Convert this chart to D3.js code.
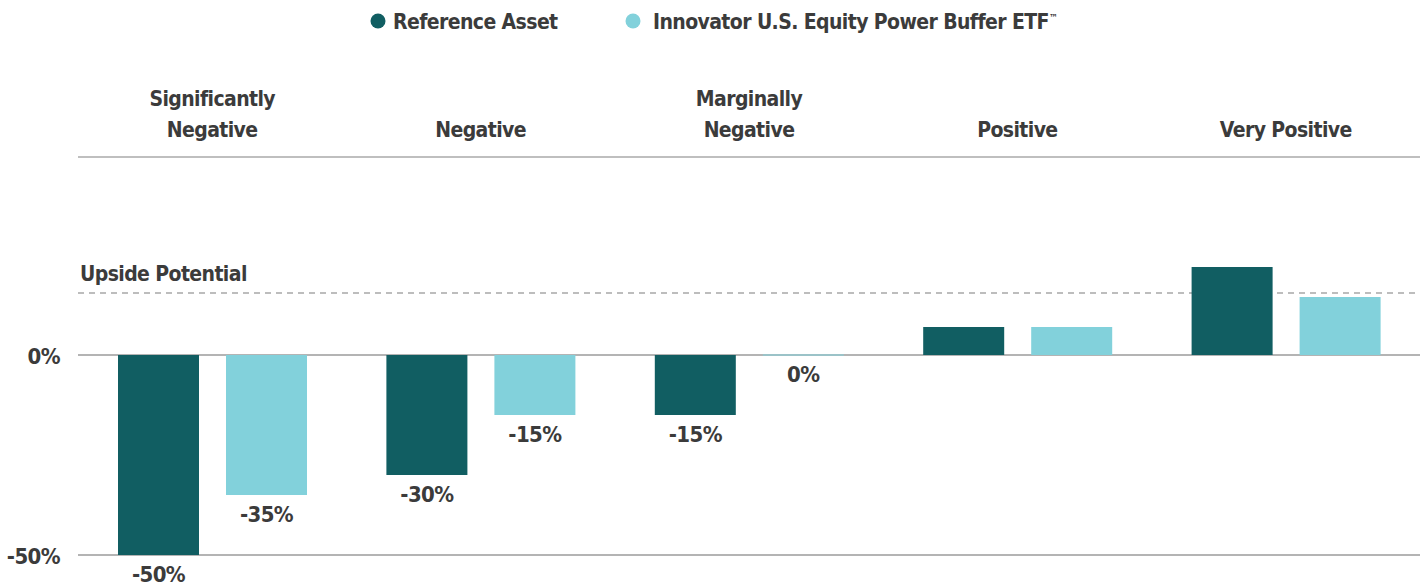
<!DOCTYPE html>
<html>
<head>
<meta charset="utf-8">
<script src="https://cdn.jsdelivr.net/npm/d3@7"></script>
<style>
  body { margin: 0; background: #fff; }
  svg { display: block; }
  text { font-family: "Liberation Sans Narrow", "DejaVu Sans Condensed", sans-serif; font-weight: bold; fill: #3b3b3b; letter-spacing: -0.6px; }
</style>
</head>
<body>
<svg width="1426" height="588"></svg>
<script>
var categories = [["Significantly", "Negative"], ["Negative"], ["Marginally", "Negative"], ["Positive"], ["Very Positive"]];
var seriesNames = ["Reference Asset", "Innovator U.S. Equity Power Buffer ETF"];
var seriesMarks = ["", "\u2122"];
var referenceValues = [-50, -30, -15, 7, 22];
var bufferValues = [-35, -15, 0, 7, 14.5];
var upsidePotential = 15.5;
var yTicks = [0, -50];

var svg = d3.select("svg"),
    margin = { left: 78, right: 6 },
    width = 1426 - margin.left - margin.right;

var colors = d3.scaleOrdinal().domain(seriesNames).range(["#115e62", "#82d1db"]);

var x0 = d3.scaleBand().domain(d3.range(categories.length)).range([margin.left, margin.left + width]);
var x1 = d3.scaleBand().domain(seriesNames).range([40, 229]).paddingInner(0.25);
var y = d3.scaleLinear().domain([-50, 0]).range([555, 355]);

var data = categories.map(function (c, i) {
    return [
        { series: seriesNames[0], value: referenceValues[i] },
        { series: seriesNames[1], value: bufferValues[i] }
    ];
});

// legend
var legend = svg.append("g");
var legendX = [378, 633];
seriesNames.forEach(function (s, i) {
    legend.append("circle").attr("cx", legendX[i]).attr("cy", 21).attr("r", 7.5).attr("fill", colors(s));
    var t = legend.append("text").attr("x", legendX[i] + 15 + i * 5).attr("y", 29).style("font-size", "21px").text(s);
    if (seriesMarks[i]) {
        t.append("tspan").attr("dy", -8).style("font-size", "10px").text(seriesMarks[i]);
    }
});

// category header
var header = svg.append("g");
categories.forEach(function (lines, i) {
    var cx = x0(i) + x0.bandwidth() / 2;
    var t = header.append("text").attr("text-anchor", "middle").style("font-size", "21px");
    lines.forEach(function (l, j) {
        t.append("tspan").attr("x", cx).attr("y", 137 - (lines.length - 1 - j) * 31).text(l);
    });
});
svg.append("line").attr("x1", margin.left).attr("x2", margin.left + width)
    .attr("y1", 157).attr("y2", 157).attr("stroke", "#aaa").attr("stroke-width", 1.5);

// y gridlines and labels
var yAxis = svg.append("g");
yTicks.forEach(function (t) {
    yAxis.append("line").attr("x1", margin.left).attr("x2", margin.left + width)
        .attr("y1", y(t)).attr("y2", y(t)).attr("stroke", "#b4b4b4").attr("stroke-width", 2);
    yAxis.append("text").attr("x", 60).attr("y", y(t) + 9).attr("text-anchor", "end")
        .style("font-size", "22px").text(t + "%");
});

// upside potential
svg.append("line").attr("x1", margin.left).attr("x2", margin.left + width)
    .attr("y1", y(upsidePotential)).attr("y2", y(upsidePotential))
    .attr("stroke", "#bdbdbd").attr("stroke-width", 2).attr("stroke-dasharray", "6,5");
svg.append("text").attr("x", 80).attr("y", y(upsidePotential) - 12)
    .style("font-size", "21px").text("Upside Potential");

// bars
var groups = svg.selectAll(".group").data(data).enter().append("g")
    .attr("class", "group")
    .attr("transform", function (d, i) { return "translate(" + x0(i) + ",0)"; });

groups.selectAll("rect").data(function (d) { return d; }).enter().append("rect")
    .attr("x", function (d) { return x1(d.series); })
    .attr("width", x1.bandwidth())
    .attr("y", function (d) { return d.value === 0 ? y(0) - 0.5 : Math.min(y(d.value), y(0)); })
    .attr("height", function (d) { return d.value === 0 ? 1 : Math.abs(y(d.value) - y(0)); })
    .attr("fill", function (d) { return colors(d.series); });

groups.selectAll(".val").data(function (d) { return d.filter(function (e) { return e.value <= 0; }); })
    .enter().append("text")
    .attr("class", "val")
    .attr("text-anchor", "middle")
    .attr("x", function (d) { return x1(d.series) + x1.bandwidth() / 2; })
    .attr("y", function (d) { return y(d.value) + 27; })
    .style("font-size", "22px")
    .text(function (d) { return d.value + "%"; });
</script>
</body>
</html>
